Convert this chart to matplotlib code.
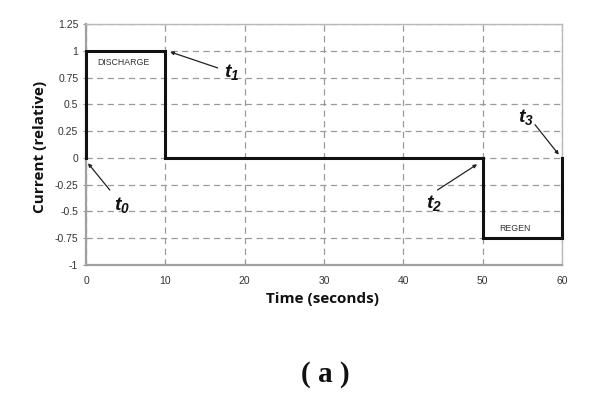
import matplotlib
matplotlib.use("Agg")
import matplotlib.pyplot as plt

plt.rcParams['mathtext.fontset'] = 'custom'
plt.rcParams['mathtext.it'] = 'Liberation Sans:bold:italic'
plt.rcParams['mathtext.rm'] = 'Liberation Sans:bold:italic'
plt.rcParams['mathtext.bf'] = 'Liberation Sans:bold:italic'

# Data
time_s = [0, 0, 10, 10, 50, 50, 60, 60]
current_rel = [0, 1, 1, 0, 0, -0.75, -0.75, 0]
x_ticks = [0, 10, 20, 30, 40, 50, 60]
y_ticks = [-1, -0.75, -0.5, -0.25, 0, 0.25, 0.5, 0.75, 1, 1.25]
y_tick_labels = ['-1', '-0.75', '-0.5', '-0.25', '0', '0.25', '0.5', '0.75', '1', '1.25']
annot_labels = ['$t_0$', '$t_1$', '$t_2$', '$t_3$']
annot_text_xy = [(4.5, -0.44), (18.3, 0.80), (43.8, -0.42), (55.5, 0.38)]
annot_tip_xy = [(0.25, -0.05), (10.6, 0.99), (49.3, -0.06), (59.6, 0.03)]
annot_tail_xy = [(3.0, -0.30), (16.6, 0.84), (44.3, -0.30), (56.6, 0.31)]

fig = plt.figure(figsize=(5.9, 3.93), dpi=100)
ax = fig.add_axes([86/590, 1 - 265/393, (562-86)/590, (265-24)/393])

ax.set_xlim(0, 60)
ax.set_ylim(-1, 1.25)
ax.set_xticks(x_ticks)
ax.set_yticks(y_ticks)
ax.set_yticklabels(y_tick_labels)
for lab in ax.get_xticklabels() + ax.get_yticklabels():
    lab.set_fontfamily('Liberation Sans')
    lab.set_fontsize(7.5)
    lab.set_color('#333333')
ax.tick_params(axis='y', direction='inout', length=5, width=0.8, color='#999999', pad=3)
ax.tick_params(axis='x', direction='out', length=0, pad=8)

ax.grid(True, which='major', color='#9a9a9a', linestyle=(0, (5, 3.5)), linewidth=0.9)
for sp in ax.spines.values():
    sp.set_color('#b8b8b8')
    sp.set_linewidth(1.0)
ax.spines['left'].set_color('#a0a0a0')
ax.spines['left'].set_linewidth(1.6)
ax.spines['bottom'].set_color('#a0a0a0')
ax.spines['bottom'].set_linewidth(1.6)

ax.plot(time_s, current_rel, color='#111111', linewidth=2.2, solid_joinstyle='miter', zorder=5, clip_on=False)

ax.text(1.4, 0.895, 'DISCHARGE', fontsize=6.3, family='Liberation Sans', color='#333333', va='center', ha='left')
ax.text(52.1, -0.66, 'REGEN', fontsize=6.3, family='Liberation Sans', color='#333333', va='center', ha='left')

for lbl, txy, tip, tail in zip(annot_labels, annot_text_xy, annot_tip_xy, annot_tail_xy):
    ax.text(txy[0], txy[1], lbl, fontsize=14, ha='center', va='center', color='#111111')
    ax.annotate('', xy=tip, xytext=tail,
                arrowprops=dict(arrowstyle='-|>', color='#222222', lw=0.9,
                                mutation_scale=5, shrinkA=0, shrinkB=0))

fig.text(323/590, 1 - 299/393, 'Time (seconds)', fontsize=11, fontweight='bold',
         family='Open Sans', ha='center', va='center', color='#111111')
fig.text(40/590, 1 - 147/393, 'Current (relative)', fontsize=11, fontweight='bold',
         family='Open Sans', ha='center', va='center', rotation=90, color='#111111')
fig.text(325/590, 1 - 375/393, '( a )', fontsize=21, fontweight='bold',
         family='Liberation Serif', ha='center', va='center', color='#111111')

fig.savefig('out.png', dpi=100)
